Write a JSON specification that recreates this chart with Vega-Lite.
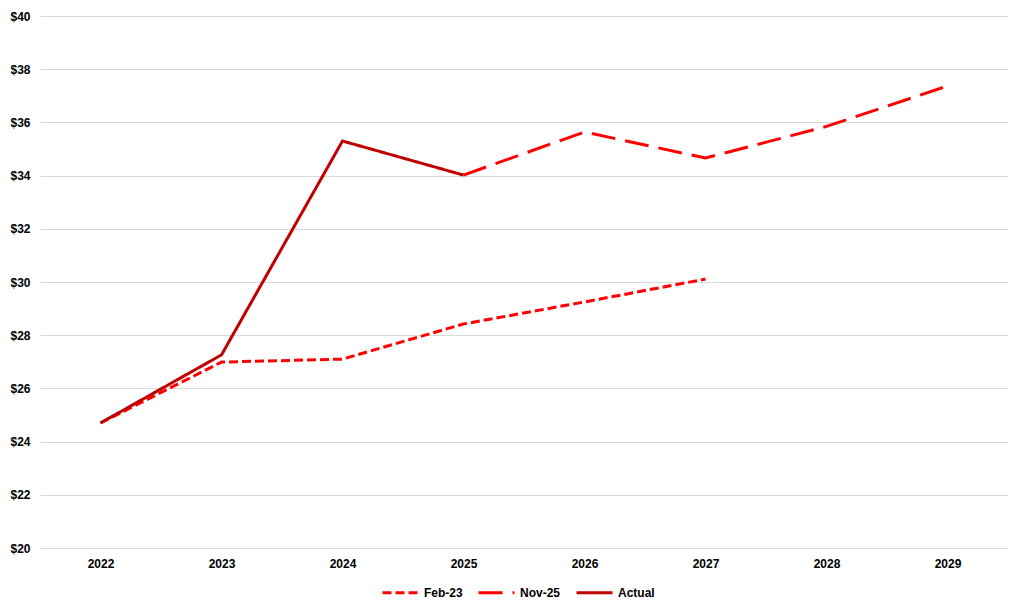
{
  "$schema": "https://vega.github.io/schema/vega-lite/v6.json",
  "width": 968,
  "height": 532,
  "autosize": {"type": "none"},
  "padding": {"left": 40, "top": 16, "right": 16, "bottom": 66},
  "background": "#ffffff",
  "data": {
    "values": [
      {"Year": "2022", "Series": "Feb-23", "Value": 24.70},
      {"Year": "2023", "Series": "Feb-23", "Value": 26.99},
      {"Year": "2024", "Series": "Feb-23", "Value": 27.10},
      {"Year": "2025", "Series": "Feb-23", "Value": 28.42},
      {"Year": "2026", "Series": "Feb-23", "Value": 29.25},
      {"Year": "2027", "Series": "Feb-23", "Value": 30.11},
      {"Year": "2025", "Series": "Nov-25", "Value": 34.02},
      {"Year": "2026", "Series": "Nov-25", "Value": 35.64},
      {"Year": "2027", "Series": "Nov-25", "Value": 34.66},
      {"Year": "2028", "Series": "Nov-25", "Value": 35.85},
      {"Year": "2029", "Series": "Nov-25", "Value": 37.37},
      {"Year": "2022", "Series": "Actual", "Value": 24.70},
      {"Year": "2023", "Series": "Actual", "Value": 27.26},
      {"Year": "2024", "Series": "Actual", "Value": 35.30},
      {"Year": "2025", "Series": "Actual", "Value": 34.02}
    ]
  },
  "mark": {"type": "line", "strokeWidth": 3, "strokeCap": "butt"},
  "encoding": {
    "x": {
      "field": "Year",
      "type": "ordinal",
      "sort": ["2022", "2023", "2024", "2025", "2026", "2027", "2028", "2029"],
      "scale": {"domain": ["2022", "2023", "2024", "2025", "2026", "2027", "2028", "2029"]},
      "axis": {
        "title": null,
        "labelAngle": 0,
        "domain": false,
        "ticks": false,
        "labelPadding": 10,
        "labelFont": "Liberation Sans",
        "labelFontWeight": "bold",
        "labelFontSize": 12,
        "labelColor": "#000000"
      }
    },
    "y": {
      "field": "Value",
      "type": "quantitative",
      "scale": {"domain": [20, 40], "nice": false, "zero": false},
      "axis": {
        "title": null,
        "values": [20, 22, 24, 26, 28, 30, 32, 34, 36, 38, 40],
        "format": "$,.0f",
        "domain": false,
        "ticks": false,
        "labelPadding": 10,
        "grid": true,
        "gridColor": "#D9D9D9",
        "gridWidth": 1,
        "labelFont": "Liberation Sans",
        "labelFontWeight": "bold",
        "labelFontSize": 12,
        "labelColor": "#000000"
      }
    },
    "color": {
      "field": "Series",
      "type": "nominal",
      "scale": {"domain": ["Feb-23", "Nov-25", "Actual"], "range": ["#FF0000", "#FF0000", "#C00000"]},
      "legend": {
        "title": null,
        "orient": "none",
        "legendX": 341,
        "legendY": 557,
        "padding": 0,
        "direction": "horizontal",
        "symbolType": "stroke",
        "symbolSize": 1296,
        "symbolStrokeWidth": 3,
        "labelFont": "Liberation Sans",
        "labelFontWeight": "bold",
        "labelFontSize": 12,
        "labelColor": "#000000",
        "labelOffset": 4,
        "columnPadding": 9
      }
    },
    "strokeDash": {
      "field": "Series",
      "type": "nominal",
      "scale": {"domain": ["Feb-23", "Nov-25", "Actual"], "range": [[9, 4], [24, 10], [1, 0]]},
      "legend": {
        "title": null,
        "orient": "none",
        "legendX": 341,
        "legendY": 557,
        "padding": 0,
        "direction": "horizontal",
        "symbolType": "stroke",
        "symbolSize": 1296,
        "symbolStrokeWidth": 3,
        "labelFont": "Liberation Sans",
        "labelFontWeight": "bold",
        "labelFontSize": 12,
        "labelColor": "#000000",
        "labelOffset": 4,
        "columnPadding": 9
      }
    }
  },
  "config": {"view": {"stroke": null}}
}
